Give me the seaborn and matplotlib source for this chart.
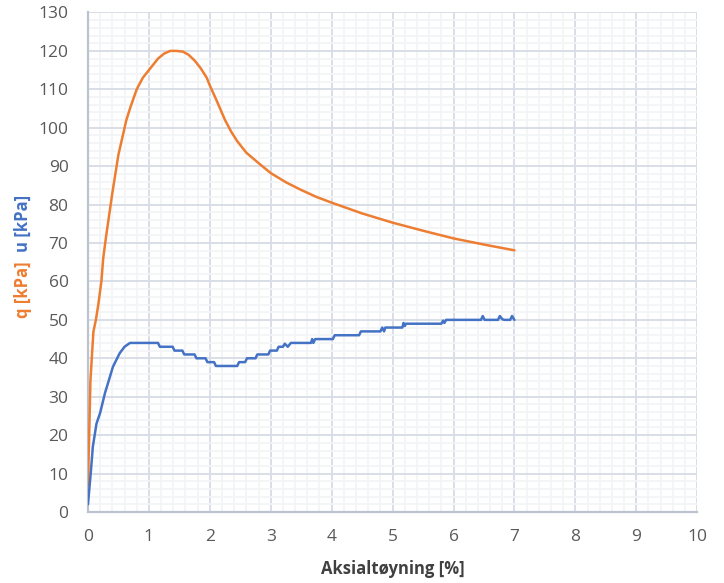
import numpy as np
import pandas as pd
import matplotlib
matplotlib.use("Agg")
import matplotlib.pyplot as plt
from matplotlib.ticker import MultipleLocator
import seaborn as sns

# q (deviator stress) vs axial strain
q_strain = [0.0, 0.02, 0.04, 0.07, 0.09, 0.13, 0.17, 0.22, 0.25, 0.3, 0.4, 0.5, 0.63,
            0.7, 0.8, 0.9, 1.05, 1.15, 1.25, 1.35, 1.45, 1.56, 1.65, 1.75, 1.85,
            1.95, 2.0, 2.1, 2.25, 2.35, 2.45, 2.6, 2.8, 3.0, 3.25, 3.5, 3.75,
            4.0, 4.5, 5.0, 5.5, 6.0, 6.5, 7.0]
q_kpa = [7, 20, 34, 42, 47, 50, 54, 60, 66, 72, 83, 93, 102,
         105.5, 110, 113, 116, 118, 119.3, 120, 120, 119.8, 119, 117.5, 115.5,
         113, 111, 107.5, 102, 99, 96.5, 93.5, 90.8, 88.2, 85.8, 83.8, 82,
         80.5, 77.7, 75.3, 73.2, 71.2, 69.6, 68.1]

# u (pore pressure) vs axial strain
u_strain = [0.0, 0.05, 0.08, 0.14, 0.2, 0.28, 0.33, 0.41, 0.52, 0.6, 0.69,
            1.15, 1.18, 1.39, 1.42, 1.55, 1.58, 1.75, 1.78, 1.93, 1.96, 2.07, 2.1,
            2.45, 2.48, 2.58, 2.61, 2.75, 2.78, 2.96, 2.99, 3.1, 3.13, 3.2, 3.23,
            3.28, 3.33, 3.66, 3.68, 3.7, 3.73, 4.02, 4.05, 4.45, 4.48, 4.8, 4.83,
            4.86, 4.88, 5.16, 5.18, 5.2, 5.22, 5.8, 5.83, 5.85, 5.88, 6.45, 6.48, 6.51,
            6.73, 6.76, 6.8, 6.83, 6.93, 6.96, 7.0]
u_kpa = [2, 11, 17, 23, 25.8, 31, 33.6, 37.8, 41.3, 43, 44,
         44, 43, 43, 42, 42, 41, 41, 40, 40, 39, 39, 38,
         38, 39, 39, 40, 40, 41, 41, 42, 42, 43, 43, 43.8,
         43, 44, 44, 45, 44, 45, 45, 46, 46, 47, 47, 48,
         47, 48, 48, 49.2, 48.4, 49, 49, 49.8, 49.2, 50, 50, 51, 50,
         50, 51, 50.2, 50, 50, 51, 50]

q_df = pd.DataFrame({"strain": q_strain, "value": q_kpa})
u_df = pd.DataFrame({"strain": u_strain, "value": u_kpa})

sns.set_style("white")
plt.rcParams["font.family"] = ["Open Sans", "DejaVu Sans"]

orange = "#ED7D31"
blue = "#4472C4"
text_col = "#595959"

fig = plt.figure(figsize=(7.24, 5.83), dpi=100)
ax = fig.add_axes([0.1215, 0.1218, 0.8415, 0.8568])

sns.lineplot(data=q_df, x="strain", y="value", color=orange, lw=1.8,
             estimator=None, sort=False, ax=ax, zorder=3)
sns.lineplot(data=u_df, x="strain", y="value", color=blue, lw=1.8,
             estimator=None, sort=False, ax=ax, zorder=3)

ax.set_xlim(0, 10)
ax.set_ylim(0, 130)
ax.xaxis.set_major_locator(MultipleLocator(1))
ax.xaxis.set_minor_locator(MultipleLocator(0.2))
ax.yaxis.set_major_locator(MultipleLocator(10))
ax.yaxis.set_minor_locator(MultipleLocator(2))
ax.grid(which="major", color="#D9DEE6", lw=1.4)
ax.grid(which="minor", color="#F2F4F7", lw=1.3)
ax.set_axisbelow(True)

for side in ["top", "right"]:
    ax.spines[side].set_visible(False)
for side in ["left", "bottom"]:
    ax.spines[side].set_color("#BCC3CE")
    ax.spines[side].set_linewidth(1.6)

ax.tick_params(which="both", length=0, labelsize=12.5, labelcolor=text_col)
ax.tick_params(axis="x", pad=12)
ax.tick_params(axis="y", pad=14)

ax.set_xlabel("Aksialtøyning [%]", fontsize=12, fontweight="bold", color="#404040", labelpad=11)
ax.set_ylabel("")

fig.text(0.032, 0.503, "q [kPa]", rotation=90, color=orange, fontsize=12,
         fontweight="bold", ha="center", va="center")
fig.text(0.032, 0.616, "u [kPa]", rotation=90, color=blue, fontsize=12,
         fontweight="bold", ha="center", va="center")

fig.savefig("out.png", dpi=100)
